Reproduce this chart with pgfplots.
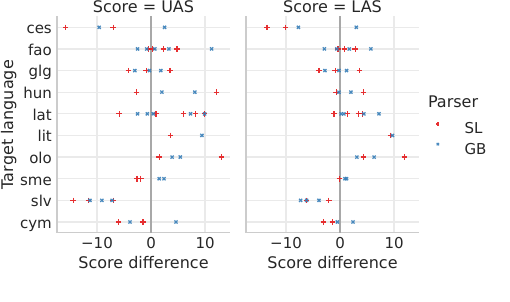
\documentclass[border=0pt]{standalone}
\usepackage{pgfplots}
\pgfplotsset{compat=1.18}
\usepackage{pgfplotstable}
\usepackage{fontspec}
\setmainfont{DejaVu Sans}
\definecolor{txt}{HTML}{262626}
\definecolor{slred}{HTML}{E41A1C}
\definecolor{gbblue}{HTML}{377EB8}
\definecolor{gridc}{HTML}{EAEAEA}
\definecolor{spinec}{HTML}{CCCCCC}
\definecolor{zeroc}{HTML}{A8A8A8}
\newcommand\labsz{\fontsize{16bp}{19bp}\selectfont}
\newcommand\ticksz{\fontsize{15bp}{18bp}\selectfont}

% y: ces=9 ... cym=0
\pgfplotstableread{
x y
-15.8 9
-7.0 9
-0.5 8
0.2 8
2.3 8
4.8 8
-4.2 7
-0.9 7
3.5 7
-2.7 6
12.1 6
-5.9 5
0.9 5
6.0 5
8.2 5
9.9 5
3.6 4
1.5 3
13.0 3
-2.6 2
-1.9 2
-14.4 1
-11.6 1
-7.0 1
-6.0 0
-1.5 0
}\uasSL
\pgfplotstableread{
x y
-9.6 9
2.5 9
-2.5 8
-0.8 8
0.7 8
3.3 8
11.2 8
-3.0 7
-0.3 7
1.8 7
2.0 6
8.1 6
-2.5 5
-0.7 5
0.4 5
7.3 5
9.9 5
9.4 4
3.9 3
5.4 3
1.5 2
2.4 2
-11.3 1
-9.1 1
-7.2 1
-3.9 0
4.6 0
}\uasGB
\pgfplotstableread{
x y
-13.5 9
-10.1 9
-0.4 8
0.8 8
2.8 8
-3.9 7
-0.9 7
3.6 7
-0.7 6
4.3 6
-1.1 5
1.4 5
3.4 5
4.1 5
9.3 4
4.3 3
11.9 3
-0.1 2
-6.2 1
-2.1 1
-3.1 0
-1.4 0
}\lasSL
\pgfplotstableread{
x y
-7.7 9
3.0 9
-2.9 8
-0.6 8
1.7 8
5.7 8
-2.8 7
-0.2 7
1.2 7
-0.2 6
2.0 6
0.2 5
0.7 5
4.4 5
7.2 5
9.7 4
3.1 3
6.3 3
0.9 2
1.2 2
-7.3 1
-6.2 1
-3.9 1
-0.5 0
2.4 0
}\lasGB

\pgfplotsset{
  every axis title shift=0pt,
  panel/.style={
    scale only axis, width=173bp, height=216.3bp,
    xmin=-17.4, xmax=14.6, ymin=-0.5, ymax=9.5,
    axis x line*=bottom, axis y line*=left,
    axis line style={spinec, line width=1.2bp, -},
    xtick={-10,0,10}, xticklabels={−10,0,10},
    ytick={0,...,9},
    major tick length=0pt,
    grid=major, major grid style={gridc, line width=1.3bp},
    tick label style={font=\ticksz, text=txt, inner sep=0pt},
    xticklabel style={anchor=base, yshift=-16bp},
    yticklabel style={anchor=base east, xshift=-5bp, yshift=-6.3bp},
    xlabel={Score difference},
    xlabel style={font=\labsz, text=txt, at={(axis description cs:0.5,0)}, anchor=base, yshift=-36bp, inner sep=0pt},
    title style={font=\labsz, text=txt, at={(axis description cs:0.5,1)}, anchor=base, yshift=3.5bp, inner sep=0pt},
    clip=false,
  },
  slmark/.style={only marks, mark=+, color=slred, opacity=0.9, mark size=2.8bp, line width=1.3bp},
  gbmark/.style={only marks, mark=x, color=gbblue, opacity=0.9, mark size=2.2bp, line width=1.3bp},
}

\begin{document}
\begin{tikzpicture}
\useasboundingbox (0,0) rectangle (510bp,302bp);
\begin{axis}[panel, at={(57bp,69.2bp)}, anchor=south west,
  title={Score = UAS},
  yticklabels={cym,slv,sme,olo,lit,lat,hun,glg,fao,ces},
  ylabel={Target language},
  ylabel style={font=\labsz, text=txt, at={(axis description cs:-0.254,0.5)}, anchor=base, inner sep=0pt},
]
\addplot[zeroc, line width=2bp, forget plot] coordinates {(0,-0.5) (0,9.5)};
\addplot[slmark] table[x=x,y=y] {\uasSL};
\addplot[gbmark] table[x=x,y=y] {\uasGB};
\end{axis}
\begin{axis}[panel, at={(246bp,69.2bp)}, anchor=south west,
  title={Score = LAS},
  yticklabel style={text opacity=0},
  legend style={at={(axis description cs:1.055,0.537)}, anchor=north west, draw=none, fill=none,
    inner sep=0pt, font=\ticksz, text=txt, row sep=3bp,
    nodes={inner sep=0pt, text height=11bp, text depth=0bp}},
  legend cell align=left,
  legend image code/.code={\draw[#1, only marks, mark size=1.6bp] plot coordinates {(8.5bp,4.5bp)}; \path (0bp,0bp) (34.5bp,11bp);},
]
\addplot[zeroc, line width=2bp, forget plot] coordinates {(0,-0.5) (0,9.5)};
\addplot[slmark] table[x=x,y=y] {\lasSL};
\addplot[gbmark] table[x=x,y=y] {\lasGB};
\addlegendentry{SL}
\addlegendentry{GB}
\node[anchor=base, font=\labsz, text=txt, inner sep=0pt] at (axis description cs:1.197,0.577) {Parser};
\end{axis}
\end{tikzpicture}
\end{document}
